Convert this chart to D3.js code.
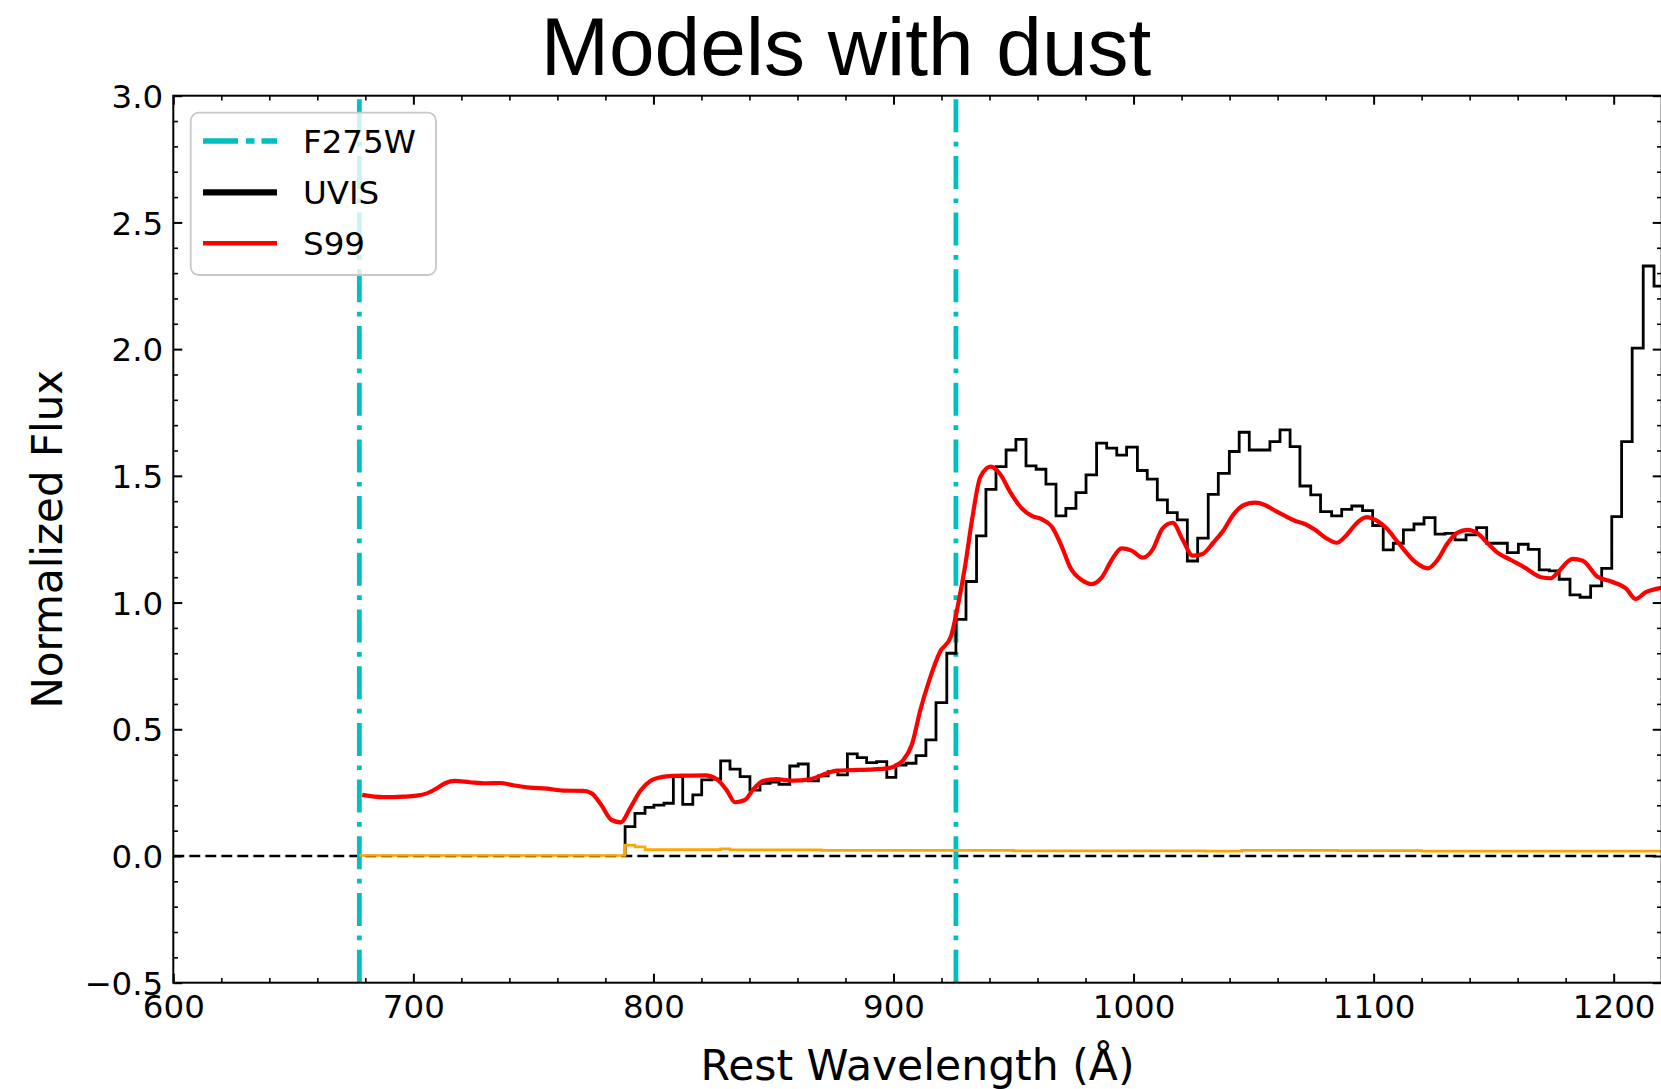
<!DOCTYPE html>
<html>
<head>
<meta charset="utf-8">
<script src="https://cdn.jsdelivr.net/npm/d3@7"></script>
<style>
  html, body { margin: 0; padding: 0; background: #fff; }
  svg { display: block; }
</style>
</head>
<body>
<svg id="chart" width="1661" height="1089"></svg>
<script>
// ---------------- DATA ----------------
const titleText = "Models with dust";
const xLabelText = "Rest Wavelength (Å)";
const yLabelText = "Normalized Flux";

const xTickValues = [600, 700, 800, 900, 1000, 1100, 1200];
const yTickValues = [-0.5, 0.0, 0.5, 1.0, 1.5, 2.0, 2.5, 3.0];

// F275W filter edges (vertical lines)
const filterEdges = [677.5, 926.0];

// UVIS spectrum (step, left bin edges)
const uvisWave = [788.2, 788.2, 792.3, 796.5, 800.2, 804.4, 808.3, 812.2, 816.4, 820.1,
  824.3, 828.0, 831.9, 836.1, 840.2, 844.4, 848.6, 852.3, 856.8, 860.3,
  864.5, 868.7, 872.8, 876.8, 880.8, 884.9, 888.8, 893.0, 897.2, 901.0,
  905.2, 909.4, 913.5, 917.7, 922.2, 926.0, 930.2, 934.6, 938.5, 942.7,
  946.9, 951.0, 955.2, 959.4, 963.5, 967.7, 971.8, 976.0, 980.2, 984.6,
  988.8, 993.0, 997.1, 1001.6, 1005.7, 1009.9, 1014.1, 1018.2, 1022.4, 1026.7,
  1031.1, 1035.3, 1039.9, 1044.0, 1048.2, 1052.7, 1056.8, 1061.0, 1065.2, 1069.3,
  1073.8, 1077.9, 1082.5, 1086.7, 1090.9, 1095.4, 1099.6, 1104.0, 1108.2, 1112.4,
  1116.8, 1121.0, 1125.6, 1129.7, 1133.9, 1138.5, 1142.9, 1147.1, 1151.3, 1155.7,
  1160.3, 1164.4, 1169.0, 1173.2, 1177.3, 1181.8, 1186.0, 1190.4, 1195.0, 1199.2,
  1203.3, 1207.7, 1212.3, 1216.8, 1222.0];
const uvisFlux = [0.000, 0.116, 0.168, 0.192, 0.201, 0.208, 0.313, 0.204, 0.241, 0.300,
  0.303, 0.375, 0.343, 0.313, 0.260, 0.287, 0.292, 0.283, 0.355, 0.363,
  0.296, 0.316, 0.333, 0.320, 0.403, 0.388, 0.368, 0.372, 0.310, 0.359,
  0.366, 0.396, 0.458, 0.605, 0.800, 0.934, 1.083, 1.263, 1.447, 1.536,
  1.602, 1.644, 1.539, 1.526, 1.467, 1.342, 1.372, 1.434, 1.504, 1.629,
  1.609, 1.582, 1.613, 1.521, 1.487, 1.405, 1.355, 1.326, 1.164, 1.254,
  1.427, 1.510, 1.596, 1.672, 1.602, 1.602, 1.635, 1.681, 1.615, 1.460,
  1.425, 1.359, 1.342, 1.368, 1.381, 1.363, 1.304, 1.208, 1.234, 1.287,
  1.310, 1.335, 1.270, 1.273, 1.247, 1.267, 1.296, 1.234, 1.234, 1.197,
  1.230, 1.210, 1.129, 1.125, 1.092, 1.030, 1.021, 1.066, 1.135, 1.339,
  1.635, 2.004, 2.328, 2.249, 2.249];

// S99 model
const s99Wave = [678.7, 687.5, 695.8, 701.4, 705.6, 709.7, 713.2, 717.3, 723.6, 730.5,
  736.1, 741.6, 748.6, 755.5, 762.5, 770.8, 774.3, 778.0, 782.6, 786.4,
  790.5, 794.8, 799.0, 803.2, 808.0, 813.9, 821.5, 826.4, 830.5, 834.0,
  838.1, 841.6, 845.8, 851.3, 858.3, 865.2, 872.2, 876.3, 883.3, 891.6,
  897.2, 900.6, 904.1, 907.6, 911.3, 914.8, 919.4, 923.8, 927.0, 929.8,
  932.6, 936.2, 940.5, 944.4, 948.5, 953.4, 957.6, 961.7, 965.9, 970.1,
  973.8, 978.4, 982.6, 986.7, 990.9, 995.0, 999.2, 1003.8, 1008.0, 1012.1,
  1016.3, 1020.5, 1024.6, 1028.8, 1033.2, 1037.4, 1041.5, 1046.0, 1050.6, 1054.7,
  1058.9, 1063.1, 1067.2, 1071.4, 1075.6, 1080.2, 1084.6, 1088.8, 1092.9, 1097.1,
  1101.3, 1105.4, 1110.2, 1117.6, 1122.5, 1126.6, 1130.8, 1135.0, 1139.1, 1143.3,
  1147.5, 1151.6, 1157.2, 1162.8, 1169.7, 1173.9, 1176.6, 1182.9, 1187.1, 1193.3,
  1199.0, 1205.1, 1209.2, 1213.4, 1218.7, 1222.0];
const s99Flux = [0.241, 0.232, 0.234, 0.238, 0.247, 0.267, 0.287, 0.296, 0.291, 0.287,
  0.288, 0.279, 0.270, 0.266, 0.258, 0.257, 0.247, 0.205, 0.142, 0.133,
  0.192, 0.260, 0.298, 0.311, 0.316, 0.317, 0.318, 0.303, 0.260, 0.212,
  0.221, 0.263, 0.297, 0.303, 0.297, 0.303, 0.326, 0.337, 0.339, 0.342,
  0.346, 0.355, 0.379, 0.438, 0.580, 0.690, 0.806, 0.863, 0.997, 1.142,
  1.319, 1.496, 1.536, 1.507, 1.438, 1.372, 1.342, 1.329, 1.300, 1.221,
  1.135, 1.089, 1.073, 1.098, 1.168, 1.214, 1.205, 1.177, 1.210, 1.293,
  1.315, 1.247, 1.185, 1.192, 1.236, 1.284, 1.346, 1.385, 1.394, 1.385,
  1.363, 1.342, 1.323, 1.310, 1.287, 1.254, 1.236, 1.267, 1.313, 1.337,
  1.323, 1.293, 1.237, 1.158, 1.135, 1.168, 1.234, 1.276, 1.287, 1.273,
  1.234, 1.197, 1.168, 1.139, 1.100, 1.096, 1.118, 1.172, 1.165, 1.102,
  1.083, 1.056, 1.014, 1.041, 1.056, 1.062];

// UVIS error (orange)
const errWave = [677.5, 788.2, 792.3, 796.5, 828.0, 831.9, 870.0, 950.0, 1030.0, 1045.0, 1085.0, 1120.0, 1222.0];
const errFlux = [0.002, 0.043, 0.036, 0.025, 0.028, 0.024, 0.022, 0.020, 0.019, 0.022, 0.021, 0.019, 0.019];

const legendLabels = ["F275W", "UVIS", "S99"];

// ---------------- LAYOUT ----------------
const L = 173.3, R = 1661.7, T = 95.7, B = 982.7;
const svg = d3.select("#chart");
const x = d3.scaleLinear().domain([600, 1220]).range([L, R]);
const y = d3.scaleLinear().domain([-0.5, 3.0]).range([B, T]);
const FONT = "'DejaVu Sans', sans-serif";

svg.append("defs").append("clipPath").attr("id", "plotclip")
  .append("rect").attr("x", L).attr("y", T).attr("width", R - L).attr("height", B - T);

const plot = svg.append("g").attr("clip-path", "url(#plotclip)");

// zero line
plot.append("line")
  .attr("x1", L).attr("x2", R).attr("y1", y(0)).attr("y2", y(0))
  .attr("stroke", "#000").attr("stroke-width", 2.6).attr("stroke-dasharray", "11,5");

// filter edges
plot.selectAll("line.edge").data(filterEdges).enter().append("line")
  .attr("class", "edge")
  .attr("x1", d => x(d)).attr("x2", d => x(d))
  .attr("y1", B).attr("y2", T)
  .attr("stroke", "#00bfbf").attr("stroke-width", 4.8)
  .attr("stroke-dasharray", "33,9.5,4.7,9.5");

// UVIS
const uvisPts = uvisWave.map((w, i) => [w, uvisFlux[i]]);
plot.append("path").datum(uvisPts)
  .attr("d", d3.line().x(d => x(d[0])).y(d => y(d[1])).curve(d3.curveStepAfter))
  .attr("fill", "none").attr("stroke", "#000").attr("stroke-width", 2.8)
  .attr("stroke-linejoin", "miter");

// S99
const s99Pts = s99Wave.map((w, i) => [w, s99Flux[i]]);
plot.append("path").datum(s99Pts)
  .attr("d", d3.line().x(d => x(d[0])).y(d => y(d[1])).curve(d3.curveMonotoneX))
  .attr("fill", "none").attr("stroke", "#ff0000").attr("stroke-width", 4.2)
  .attr("stroke-linejoin", "round");

// error
const errPts = errWave.map((w, i) => [w, errFlux[i]]);
plot.append("path").datum(errPts)
  .attr("d", d3.line().x(d => x(d[0])).y(d => y(d[1])).curve(d3.curveStepAfter))
  .attr("fill", "none").attr("stroke", "#ffa500").attr("stroke-width", 2.6);

// ---------------- AXES ----------------
const minorX = d3.range(600, 1221, 20).filter(v => v % 100 !== 0);
const minorY = d3.range(-5, 31, 1).map(v => v / 10).filter(v => Math.abs(v * 2 - Math.round(v * 2)) > 1e-6);

function styleAxis(g, major) {
  g.select(".domain").remove();
  g.selectAll(".tick line").attr("stroke", "#000").attr("stroke-width", major ? 2 : 1.6);
  g.selectAll(".tick text").attr("font-family", FONT).attr("font-size", 32.5).attr("fill", "#000");
}

// bottom
svg.append("g").attr("transform", `translate(0,${B})`)
  .call(d3.axisBottom(x).tickValues(xTickValues).tickSize(-9).tickPadding(12).tickFormat(d3.format("d")))
  .call(g => styleAxis(g, true));
svg.append("g").attr("transform", `translate(0,${B})`)
  .call(d3.axisBottom(x).tickValues(minorX).tickSize(-4.7).tickFormat(""))
  .call(g => styleAxis(g, false));
// top
svg.append("g").attr("transform", `translate(0,${T})`)
  .call(d3.axisTop(x).tickValues(xTickValues).tickSize(-9).tickFormat(""))
  .call(g => styleAxis(g, true));
svg.append("g").attr("transform", `translate(0,${T})`)
  .call(d3.axisTop(x).tickValues(minorX).tickSize(-4.7).tickFormat(""))
  .call(g => styleAxis(g, false));
// left
svg.append("g").attr("transform", `translate(${L},0)`)
  .call(d3.axisLeft(y).tickValues(yTickValues).tickSize(-9).tickPadding(10).tickFormat(d3.format(".1f")))
  .call(g => styleAxis(g, true))
  .call(g => g.selectAll(".tick text").attr("dy", "0.36em"));
svg.append("g").attr("transform", `translate(${L},0)`)
  .call(d3.axisLeft(y).tickValues(minorY).tickSize(-4.7).tickFormat(""))
  .call(g => styleAxis(g, false));
// right
svg.append("g").attr("transform", `translate(${R},0)`)
  .call(d3.axisRight(y).tickValues(yTickValues).tickSize(-9).tickFormat(""))
  .call(g => styleAxis(g, true));
svg.append("g").attr("transform", `translate(${R},0)`)
  .call(d3.axisRight(y).tickValues(minorY).tickSize(-4.7).tickFormat(""))
  .call(g => styleAxis(g, false));

// spines
svg.append("rect").attr("x", L).attr("y", T).attr("width", R - L).attr("height", B - T)
  .attr("fill", "none").attr("stroke", "#000").attr("stroke-width", 2);

// ---------------- LABELS ----------------
svg.append("text").attr("x", 846).attr("y", 75)
  .attr("text-anchor", "middle").attr("font-family", "'Liberation Sans', Arial, sans-serif")
  .attr("font-size", 82).attr("fill", "#000").text(titleText);

svg.append("text").attr("x", (L + R) / 2).attr("y", 1080)
  .attr("text-anchor", "middle").attr("font-family", FONT)
  .attr("font-size", 42.5).attr("fill", "#000").text(xLabelText);

svg.append("text").attr("transform", `translate(62,${(T + B) / 2}) rotate(-90)`)
  .attr("text-anchor", "middle").attr("font-family", FONT)
  .attr("font-size", 42).attr("fill", "#000").text(yLabelText);

// ---------------- LEGEND ----------------
const leg = svg.append("g");
leg.append("rect").attr("x", 190.7).attr("y", 112.7).attr("width", 245.3).attr("height", 162.3)
  .attr("rx", 8).attr("ry", 8)
  .attr("fill", "#fff").attr("fill-opacity", 0.8)
  .attr("stroke", "#c8c8c8").attr("stroke-width", 1.8);

const legendStyles = [
  { color: "#00bfbf", width: 5.5, dash: "35,8,8.5,7" },
  { color: "#000000", width: 6.2, dash: null },
  { color: "#ff0000", width: 4.6, dash: null }
];
const legRowY = [141, 192.3, 243.3];
legendLabels.forEach((lab, i) => {
  const s = legendStyles[i];
  const ln = leg.append("line").attr("x1", 203).attr("x2", 277)
    .attr("y1", legRowY[i]).attr("y2", legRowY[i])
    .attr("stroke", s.color).attr("stroke-width", s.width);
  if (s.dash) ln.attr("stroke-dasharray", s.dash);
  leg.append("text").attr("x", 303).attr("y", legRowY[i]).attr("dy", "0.36em")
    .attr("font-family", FONT).attr("font-size", 32.5).attr("fill", "#000").text(lab);
});
</script>
</body>
</html>
